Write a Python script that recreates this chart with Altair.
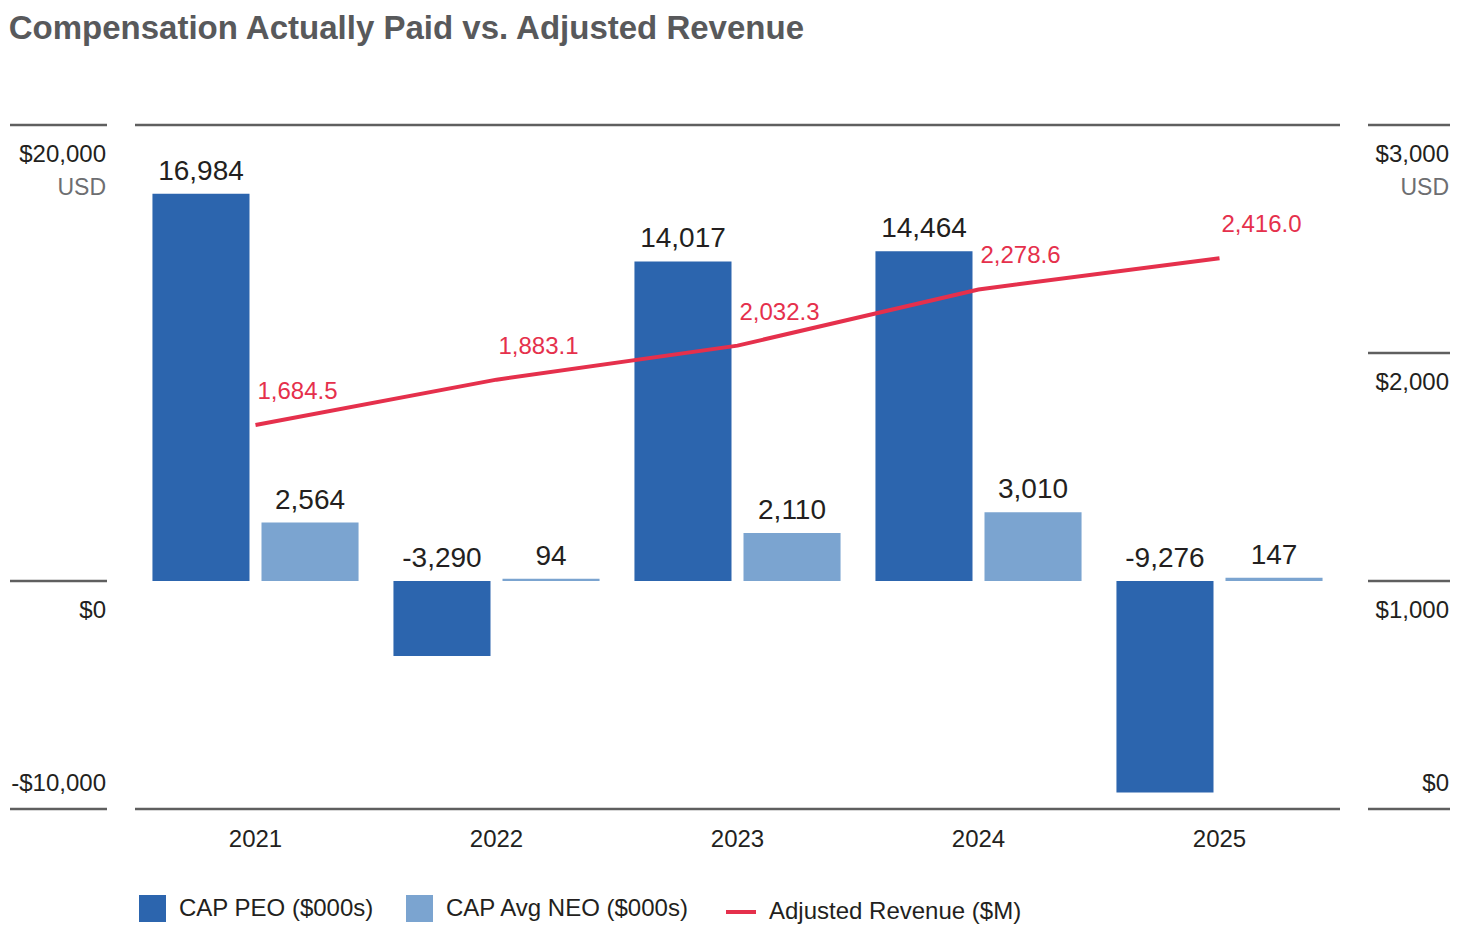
import altair as alt
import pandas as pd

# ---------------- data ----------------
years = ["2021", "2022", "2023", "2024", "2025"]
cap_peo = [16984, -3290, 14017, 14464, -9276]
cap_neo = [2564, 94, 2110, 3010, 147]
adj_revenue = [1684.5, 1883.1, 2032.3, 2278.6, 2416.0]
series_names = ["CAP PEO ($000s)", "CAP Avg NEO ($000s)", "Adjusted Revenue ($M)"]
left_ticks = [20000, 0, -10000]
left_labels = ["$20,000", "$0", "-$10,000"]
right_ticks = [3000, 2000, 1000, 0]
right_labels = ["$3,000", "$2,000", "$1,000", "$0"]
unit_label = "USD"
title_text = "Compensation Actually Paid vs. Adjusted Revenue"

# ---------------- style ----------------
FONT = "Liberation Sans, Arial, Helvetica, sans-serif"
DARK = "#2C65AE"
LIGHT = "#7BA4D0"
RED = "#E5304C"
TEXT = "#231F20"
GRID = "#5F5F5F"
UNIT = "#6D6E71"
TITLE_C = "#58595B"

H = 684
LW, MW, RW = 97, 1205, 82

bars = pd.DataFrame({
    "year": years * 2,
    "series": [series_names[0]] * len(years) + [series_names[1]] * len(years),
    "value": cap_peo + cap_neo,
})
bars["label"] = bars["value"].map(lambda v: f"{v:,}")
bars["label_y"] = bars["value"].clip(lower=0)

rev = pd.DataFrame({"year": years, "series": series_names[2], "value": adj_revenue})
rev["label"] = rev["value"].map(lambda v: f"{v:,.1f}")

frame = pd.DataFrame({"v": [max(left_ticks), min(left_ticks)]})

yL = alt.Scale(domain=[min(left_ticks), max(left_ticks)], nice=False, zero=False)
yR = alt.Scale(domain=[min(right_ticks), max(right_ticks)], nice=False, zero=False)

x_enc = alt.X(
    "year:N", sort=years,
    scale=alt.Scale(paddingInner=0, paddingOuter=0),
    axis=alt.Axis(title=None, domain=False, ticks=False, grid=False, labelAngle=0,
                  labelPadding=18, labelFontSize=24, labelFont=FONT, labelColor=TEXT),
)
xoff = alt.XOffset(
    "series:N", sort=series_names[:2],
    scale=alt.Scale(domain=series_names[:2], paddingInner=0.11, paddingOuter=0.16),
)

frame_rules = alt.Chart(frame).mark_rule(color=GRID, strokeWidth=2.5).encode(
    y=alt.Y("v:Q", scale=yL, axis=None), x=alt.value(0), x2=alt.value(MW))

bar_layer = alt.Chart(bars).mark_bar().encode(
    x=x_enc,
    xOffset=xoff,
    y=alt.Y("value:Q", scale=yL, axis=None),
    color=alt.Color("series:N",
                    scale=alt.Scale(domain=series_names[:2], range=[DARK, LIGHT]),
                    legend=alt.Legend(title=None, orient="none", legendX=129, legendY=770,
                                      direction="horizontal", symbolType="square",
                                      symbolSize=729, symbolStrokeWidth=0, symbolOpacity=1,
                                      labelFontSize=24, labelFont=FONT, labelColor=TEXT,
                                      labelOffset=13, columnPadding=32, padding=0,
                                      labelLimit=400)),
)

bar_text = alt.Chart(bars).mark_text(
    font=FONT, fontSize=28, color=TEXT, baseline="alphabetic", dy=-14
).encode(
    x=alt.X("year:N", sort=years),
    xOffset=xoff,
    y=alt.Y("label_y:Q", scale=yL, axis=None),
    text="label:N",
)

line = alt.Chart(rev).mark_line(strokeWidth=4).encode(
    x=alt.X("year:N", sort=years),
    y=alt.Y("value:Q", scale=yR, axis=None),
    stroke=alt.Stroke("series:N",
                      scale=alt.Scale(domain=[series_names[2]], range=[RED]),
                      legend=alt.Legend(title=None, orient="none", legendX=714, legendY=770,
                                        symbolType="stroke", symbolSize=900,
                                        symbolStrokeWidth=4, labelFontSize=24,
                                        labelFont=FONT, labelColor=TEXT, labelOffset=11,
                                        padding=0, labelLimit=400)),
)

rev_text = alt.Chart(rev).mark_text(
    font=FONT, fontSize=24, color=RED, align="left", baseline="alphabetic", dx=2, dy=-26
).encode(
    x=alt.X("year:N", sort=years),
    y=alt.Y("value:Q", scale=yR, axis=None),
    text="label:N",
)

main = alt.layer(
    alt.layer(frame_rules, bar_layer, bar_text),
    alt.layer(line, rev_text),
).resolve_scale(y="independent").properties(width=MW, height=H)


def gutter(ticks, labels, scale, w):
    df = pd.DataFrame({"v": ticks, "label": labels})
    lo = min(ticks)
    hi = max(ticks)
    rules = alt.Chart(df).mark_rule(color=GRID, strokeWidth=2.5).encode(
        y=alt.Y("v:Q", scale=scale, axis=None), x=alt.value(0), x2=alt.value(w))
    below = alt.Chart(df).transform_filter(alt.datum.v > lo).mark_text(
        font=FONT, fontSize=24, color=TEXT, align="right", baseline="alphabetic", dy=37
    ).encode(y=alt.Y("v:Q", scale=scale, axis=None), x=alt.value(w - 1), text="label:N")
    above = alt.Chart(df).transform_filter(alt.datum.v == lo).mark_text(
        font=FONT, fontSize=24, color=TEXT, align="right", baseline="alphabetic", dy=-18
    ).encode(y=alt.Y("v:Q", scale=scale, axis=None), x=alt.value(w - 1), text="label:N")
    unit = alt.Chart(pd.DataFrame({"v": [hi], "label": [unit_label]})).mark_text(
        font=FONT, fontSize=23, color=UNIT, align="right", baseline="alphabetic", dy=70
    ).encode(y=alt.Y("v:Q", scale=scale, axis=None), x=alt.value(w - 1), text="label:N")
    return alt.layer(rules, below, above, unit).properties(width=w, height=H)


left = gutter(left_ticks, left_labels, yL, LW)
right = gutter(right_ticks, right_labels, yR, RW)

chart = alt.hconcat(left, main, right, spacing=24).resolve_scale(
    y="independent"
).properties(
    title=alt.TitleParams(title_text, anchor="start", font=FONT, fontSize=33,
                          fontWeight="bold", color=TITLE_C, offset=78),
    padding={"top": 4, "left": 0, "right": 0, "bottom": 0},
).configure_view(stroke=None)

chart.save("out.html", embed_options={"renderer": "svg", "actions": False})
